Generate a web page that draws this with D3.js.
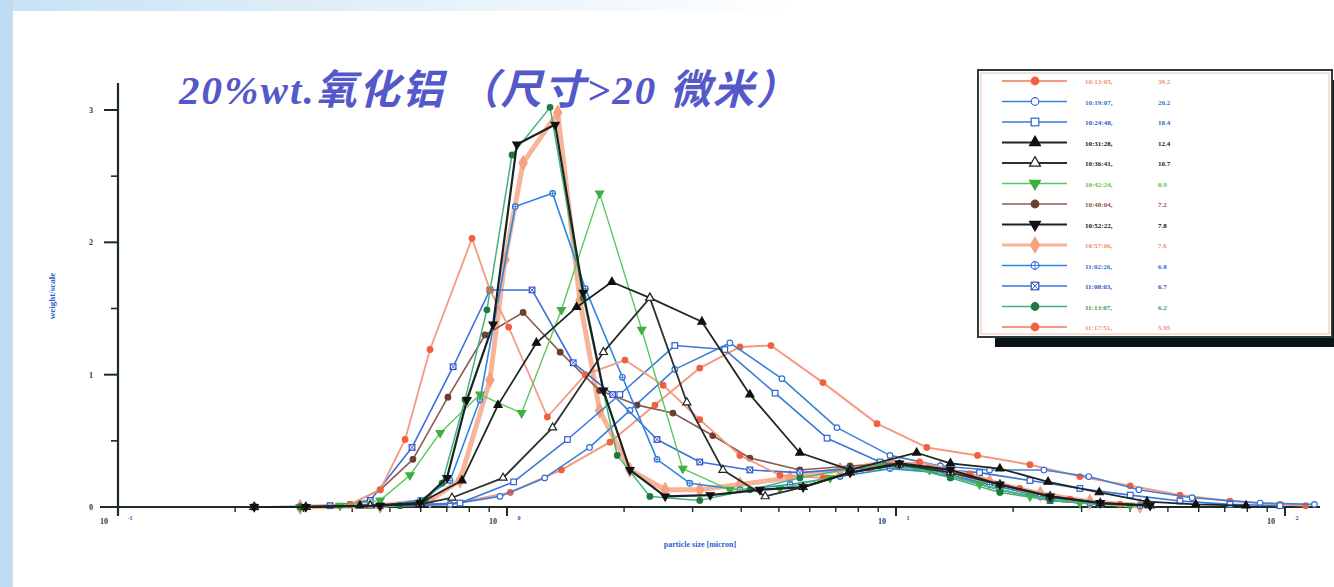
<!DOCTYPE html>
<html><head><meta charset="utf-8">
<script src="https://cdn.jsdelivr.net/npm/d3@7"></script>
<style>body{margin:0;background:#fff}svg{display:block}</style>
</head><body>
<svg id="c" width="1334" height="587"></svg>
<script>
// particle size [micron] vs weight, one array of [size, weight] per measurement
const run01 = [[0.531,0.01],[0.714,0.02],[1.02,0.11],[1.38,0.28],[1.84,0.49],[2.40,0.77],[3.13,1.05],[3.97,1.21],[4.77,1.22],[6.49,0.94],[8.94,0.63],[12.0,0.45],[16.2,0.39],[22.1,0.32],[29.7,0.23],[40.0,0.16],[53.7,0.09],[72.2,0.045],[97.1,0.02],[113,0.01]];
const run02 = [[0.531,0.01],[0.714,0.02],[0.959,0.08],[1.25,0.22],[1.63,0.45],[2.07,0.73],[2.70,1.04],[3.74,1.24],[5.09,0.97],[7.05,0.60],[9.65,0.39],[13.0,0.31],[17.4,0.28],[24.0,0.28],[31.3,0.23],[42.1,0.13],[57.7,0.07],[86.3,0.03],[119,0.02]];
const run03 = [[0.472,0.01],[0.757,0.03],[1.04,0.19],[1.43,0.51],[1.95,0.85],[2.70,1.22],[3.63,1.19],[4.89,0.86],[6.65,0.52],[9.10,0.34],[12.2,0.29],[16.4,0.26],[22.1,0.20],[29.7,0.14],[40.0,0.09],[53.7,0.045],[72.2,0.02],[97.1,0.01]];
const run04 = [[0.224,0],[0.304,0],[0.419,0.01],[0.598,0.03],[0.766,0.20],[0.948,0.77],[1.19,1.24],[1.51,1.51],[1.86,1.70],[2.33,1.58],[3.17,1.40],[4.21,0.85],[5.66,0.41],[7.62,0.28],[11.3,0.41],[13.8,0.33],[18.5,0.29],[24.6,0.19],[33.3,0.11],[44.2,0.04],[59.0,0.02],[79.4,0.01]];
const run05 = [[0.224,0],[0.304,0],[0.445,0.01],[0.598,0.02],[0.722,0.07],[0.977,0.22],[1.31,0.60],[1.77,1.17],[2.33,1.58],[2.90,0.79],[3.59,0.28],[4.61,0.08],[5.77,0.15],[7.62,0.26],[10.2,0.32],[13.8,0.26],[18.5,0.17],[24.9,0.08],[33.5,0.03],[45.0,0.01]];
const run06 = [[0.294,0],[0.372,0.01],[0.472,0.05],[0.563,0.24],[0.673,0.56],[0.852,0.85],[1.09,0.71],[1.38,1.49],[1.73,2.37],[2.22,1.34],[2.83,0.29],[3.74,0.13],[5.03,0.14],[6.77,0.22],[9.10,0.31],[12.2,0.28],[16.4,0.17],[22.1,0.08],[29.7,0.03],[40.0,0.01]];
const run07 = [[0.294,0],[0.395,0.02],[0.472,0.13],[0.573,0.36],[0.705,0.83],[0.878,1.30],[1.10,1.47],[1.37,1.17],[1.73,0.88],[2.16,0.77],[2.67,0.71],[3.38,0.54],[4.21,0.37],[5.66,0.28],[7.62,0.31],[10.2,0.33],[13.8,0.24],[18.5,0.13],[24.9,0.05],[33.5,0.02]];
const run08 = [[0.224,0],[0.304,0],[0.472,0.01],[0.598,0.03],[0.701,0.22],[0.789,0.81],[0.921,1.38],[1.06,2.74],[1.33,2.89],[1.57,1.62],[1.77,0.88],[2.07,0.28],[2.55,0.08],[3.33,0.09],[4.47,0.13],[5.77,0.15],[7.62,0.26],[10.2,0.33],[13.8,0.28],[18.5,0.17],[24.9,0.08],[33.5,0.03],[45.0,0.01]];
const run09 = [[0.294,0],[0.472,0.01],[0.634,0.05],[0.757,0.20],[0.904,0.96],[0.988,1.87],[1.10,2.60],[1.35,2.98],[1.54,1.56],[1.73,0.73],[2.07,0.28],[2.55,0.13],[3.13,0.13],[3.97,0.17],[5.34,0.22],[7.18,0.28],[9.65,0.34],[13.0,0.29],[17.4,0.19],[23.5,0.10],[31.5,0.04],[42.4,0.01]];
const run10 = [[0.294,0],[0.472,0.01],[0.598,0.05],[0.714,0.20],[0.852,0.81],[1.05,2.27],[1.31,2.37],[1.59,1.65],[1.98,0.98],[2.43,0.36],[2.95,0.18],[3.97,0.13],[5.34,0.17],[7.18,0.23],[9.65,0.29],[13.0,0.26],[17.4,0.17],[23.5,0.08],[31.5,0.03],[42.4,0.01]];
const run11 = [[0.224,0],[0.351,0.01],[0.445,0.05],[0.570,0.45],[0.727,1.06],[0.904,1.64],[1.16,1.64],[1.48,1.09],[1.87,0.85],[2.43,0.51],[3.13,0.34],[4.21,0.28],[5.66,0.26],[7.62,0.29],[10.2,0.31],[13.8,0.23],[18.5,0.13],[24.9,0.05],[33.5,0.02]];
const run12 = [[0.294,0],[0.531,0.01],[0.616,0.05],[0.681,0.18],[0.780,0.81],[0.888,1.49],[1.03,2.66],[1.29,3.02],[1.57,1.58],[1.92,0.39],[2.33,0.08],[3.13,0.05],[4.21,0.13],[5.66,0.22],[7.62,0.29],[10.2,0.32],[13.8,0.22],[18.5,0.11],[24.9,0.05],[33.5,0.02]];
const run13 = [[0.224,0],[0.304,0],[0.395,0.02],[0.472,0.13],[0.547,0.51],[0.634,1.19],[0.813,2.03],[0.904,1.64],[1.01,1.36],[1.27,0.68],[1.59,1.00],[2.01,1.11],[2.52,0.92],[3.13,0.66],[3.97,0.39],[5.03,0.24],[6.49,0.22],[8.57,0.29],[11.5,0.34],[15.5,0.25],[20.8,0.14],[28.0,0.06],[37.7,0.02]];

const legendTimes = ["10:13:05,","10:19:07,","10:24:48,","10:31:28,","10:36:41,","10:42:24,","10:48:04,","10:52:22,","10:57:06,","11:02:26,","11:08:03,","11:13:07,","11:17:51,"];
const legendMeans = ["39.2","20.2","18.4","12.4","10.7","8.9","7.2","7.8","7.6","6.8","6.7","6.2","5.95"];
const yTicks = [0, 1, 2, 3];
const yMinor = [0.5, 1.5, 2.5];
const xDecades = [0.1, 1, 10, 100];
const xExponents = ["-1", "0", "1", "2"];
const titleText = "20%wt.氧化铝 （尺寸>20 微米）";
const xLabel = "particle size [micron]";
const yLabel = "weight/scale";

// drawing style for each run: line colour, marker colour, marker kind, line width
const styles = [
  {line:"#f49a80", fill:"#f0603c", stroke:"#f0603c", mark:"circle", w:2},
  {line:"#3c80dc", fill:"#ffffff", stroke:"#3070d8", mark:"circle", w:1.6},
  {line:"#3a78d8", fill:"#ffffff", stroke:"#3060d0", mark:"square", w:1.6},
  {line:"#1e2626", fill:"#111111", stroke:"#111111", mark:"triUp", w:1.8},
  {line:"#2a3030", fill:"#ffffff", stroke:"#222222", mark:"triUp", w:1.8},
  {line:"#5cc85c", fill:"#3cb040", stroke:"#3cb040", mark:"triDown", w:1.4},
  {line:"#8a5c50", fill:"#6a3e30", stroke:"#6a3e30", mark:"circle", w:1.6},
  {line:"#1a2222", fill:"#111111", stroke:"#111111", mark:"triDown", w:2.2},
  {line:"#f8b498", fill:"#f6a080", stroke:"#f6a080", mark:"diamond", w:5},
  {line:"#2888e4", fill:"#ffffff", stroke:"#2a70d8", mark:"circleCross", w:1.6},
  {line:"#3c70d8", fill:"#ffffff", stroke:"#3050c8", mark:"squareX", w:1.6},
  {line:"#40b478", fill:"#1e7a40", stroke:"#1e7a40", mark:"circle", w:1.5},
  {line:"#f49a80", fill:"#f06040", stroke:"#f06040", mark:"circle", w:1.8}
];
const runs = [run01,run02,run03,run04,run05,run06,run07,run08,run09,run10,run11,run12,run13];

const svg = d3.select("#c");

// soft blue frame on the left and top
const grad = svg.append("defs").append("linearGradient").attr("id","topband").attr("x1",0).attr("x2",1);
grad.append("stop").attr("offset","0%").attr("stop-color","#c8e2f4");
grad.append("stop").attr("offset","100%").attr("stop-color","#ffffff");
svg.append("rect").attr("width",1334).attr("height",587).attr("fill","#ffffff");
svg.append("rect").attr("x",0).attr("y",0).attr("width",800).attr("height",11).attr("fill","url(#topband)");
svg.append("rect").attr("x",0).attr("y",0).attr("width",13).attr("height",587).attr("fill","#c0dcf2");

const x = d3.scaleLog().domain([0.1, 100]).range([118, 1285]);
const y = d3.scaleLinear().domain([0, 3]).range([507, 110]);

// title
svg.append("text").attr("x",179).attr("y",104)
  .attr("font-family","'Liberation Serif','Noto Sans CJK SC',serif")
  .attr("font-style","italic").attr("font-weight","bold").attr("font-size",41)
  .attr("letter-spacing",2.1)
  .attr("fill","#5558c8").text(titleText);

// axes
const axisColor = "#1c2a2a";
const ax = svg.append("g");
ax.append("line").attr("x1",100).attr("x2",1320).attr("y1",y(0)).attr("y2",y(0)).attr("stroke",axisColor).attr("stroke-width",2.2);
ax.append("line").attr("x1",x(0.1)).attr("x2",x(0.1)).attr("y1",83).attr("y2",515).attr("stroke",axisColor).attr("stroke-width",2.2);
yTicks.forEach(t => {
  ax.append("line").attr("x1",x(0.1)-14).attr("x2",x(0.1)).attr("y1",y(t)).attr("y2",y(t)).attr("stroke",axisColor).attr("stroke-width",2);
  ax.append("text").attr("x",x(0.1)-27).attr("y",y(t)+3).attr("text-anchor","middle")
    .attr("font-family","'Liberation Serif',serif").attr("font-weight","bold").attr("font-size",8)
    .attr("fill","#2a3a50").text(t);
});
yMinor.forEach(t => {
  ax.append("line").attr("x1",x(0.1)-7).attr("x2",x(0.1)).attr("y1",y(t)).attr("y2",y(t)).attr("stroke",axisColor).attr("stroke-width",1.6);
});
xDecades.forEach((d,i) => {
  ax.append("line").attr("x1",x(d)).attr("x2",x(d)).attr("y1",y(0)).attr("y2",y(0)+9).attr("stroke",axisColor).attr("stroke-width",2);
  ax.append("text").attr("x",x(d)-14).attr("y",y(0)+17).attr("text-anchor","middle")
    .attr("font-family","'Liberation Serif',serif").attr("font-weight","bold").attr("font-size",8)
    .attr("fill","#2a3a50").text("10");
  ax.append("text").attr("x",x(d)+12).attr("y",y(0)+13).attr("text-anchor","middle")
    .attr("font-family","'Liberation Serif',serif").attr("font-weight","bold").attr("font-size",6)
    .attr("fill","#3050c0").text(xExponents[i]);
  if (i < xDecades.length - 1) {
    for (let m = 2; m <= 9; m++) {
      ax.append("line").attr("x1",x(d*m)).attr("x2",x(d*m)).attr("y1",y(0)).attr("y2",y(0)+5).attr("stroke",axisColor).attr("stroke-width",1.4);
    }
  }
});
svg.append("text").attr("x",700).attr("y",547).attr("text-anchor","middle")
  .attr("font-family","'Liberation Serif',serif").attr("font-weight","bold").attr("font-size",8)
  .attr("fill","#2f5fd0").text(xLabel);
svg.append("text").attr("transform","translate(55,296) rotate(-90)").attr("text-anchor","middle")
  .attr("font-family","'Liberation Serif',serif").attr("font-weight","bold").attr("font-size",9)
  .attr("fill","#2f5fd0").text(yLabel);

// marker painter
function marker(g, kind, cx, cy, st, r) {
  const sw = 1.2;
  if (kind === "circle") {
    g.append("circle").attr("cx",cx).attr("cy",cy).attr("r",r).attr("fill",st.fill).attr("stroke",st.stroke).attr("stroke-width",sw);
  } else if (kind === "square") {
    g.append("rect").attr("x",cx-r).attr("y",cy-r).attr("width",2*r).attr("height",2*r).attr("fill",st.fill).attr("stroke",st.stroke).attr("stroke-width",sw);
  } else if (kind === "triUp" || kind === "triDown") {
    const p = d3.symbol().type(d3.symbolTriangle).size(r*r*3.6)();
    g.append("path").attr("d",p).attr("transform",`translate(${cx},${cy})${kind==="triDown"?" rotate(180)":""}`)
      .attr("fill",st.fill).attr("stroke",st.stroke).attr("stroke-width",sw);
  } else if (kind === "diamond") {
    const p = d3.symbol().type(d3.symbolDiamond).size(r*r*4)();
    g.append("path").attr("d",p).attr("transform",`translate(${cx},${cy})`).attr("fill",st.fill).attr("stroke",st.stroke).attr("stroke-width",sw);
  } else if (kind === "circleCross") {
    g.append("circle").attr("cx",cx).attr("cy",cy).attr("r",r).attr("fill",st.fill).attr("stroke",st.stroke).attr("stroke-width",sw);
    g.append("path").attr("d",`M${cx-r},${cy}H${cx+r}M${cx},${cy-r}V${cy+r}`).attr("stroke",st.stroke).attr("stroke-width",0.9);
  } else if (kind === "squareX") {
    g.append("rect").attr("x",cx-r).attr("y",cy-r).attr("width",2*r).attr("height",2*r).attr("fill",st.fill).attr("stroke",st.stroke).attr("stroke-width",sw);
    g.append("path").attr("d",`M${cx-r},${cy-r}L${cx+r},${cy+r}M${cx+r},${cy-r}L${cx-r},${cy+r}`).attr("stroke",st.stroke).attr("stroke-width",0.9);
  }
}

const line = d3.line().x(d => x(d[0])).y(d => y(d[1]));
// thick pale run goes underneath the rest
const order = [8,0,1,2,6,10,9,12,5,11,3,4,7];
const plot = svg.append("g");
order.forEach(i => {
  const st = styles[i];
  const g = plot.append("g");
  g.append("path").datum(runs[i]).attr("d",line).attr("fill","none").attr("stroke",st.line)
    .attr("stroke-width",st.w).attr("stroke-linejoin","round");
  runs[i].forEach(d => marker(g, st.mark, x(d[0]), y(d[1]), st, i===8?3.8:2.8));
});

// legend
const lg = svg.append("g");
lg.append("rect").attr("x",995).attr("y",80).attr("width",345).attr("height",267).attr("fill","#0a1414");
lg.append("rect").attr("x",978).attr("y",70).attr("width",354).attr("height",267).attr("fill","#ffffff")
  .attr("stroke","#2c3c3c").attr("stroke-width",2);
lg.append("rect").attr("x",981).attr("y",73).attr("width",348).attr("height",261).attr("fill","none")
  .attr("stroke","#f4c0a8").attr("stroke-width",1);
styles.forEach((st,i) => {
  const ry = 81 + i*20.5;
  lg.append("line").attr("x1",1002).attr("x2",1067).attr("y1",ry).attr("y2",ry).attr("stroke",st.line).attr("stroke-width",Math.min(st.w,3));
  marker(lg, st.mark, 1035, ry, st, i===8?4.2:3.8);
  const tc = (st.line === "#f49a80" || st.line === "#f8b498") ? "#f09070" : (i===5 ? "#60c040" : (i===11 ? "#30a060" : st.stroke === "#ffffff" ? "#333" : (i===6 ? "#8a5040" : st.stroke)));
  lg.append("text").attr("x",1085).attr("y",ry+3).attr("font-family","'Liberation Serif',serif").attr("font-weight","bold")
    .attr("font-size",7).attr("fill",tc).text(legendTimes[i]);
  lg.append("text").attr("x",1158).attr("y",ry+3).attr("font-family","'Liberation Serif',serif").attr("font-weight","bold")
    .attr("font-size",7).attr("fill",tc).text(legendMeans[i]);
});
</script>
</body></html>
